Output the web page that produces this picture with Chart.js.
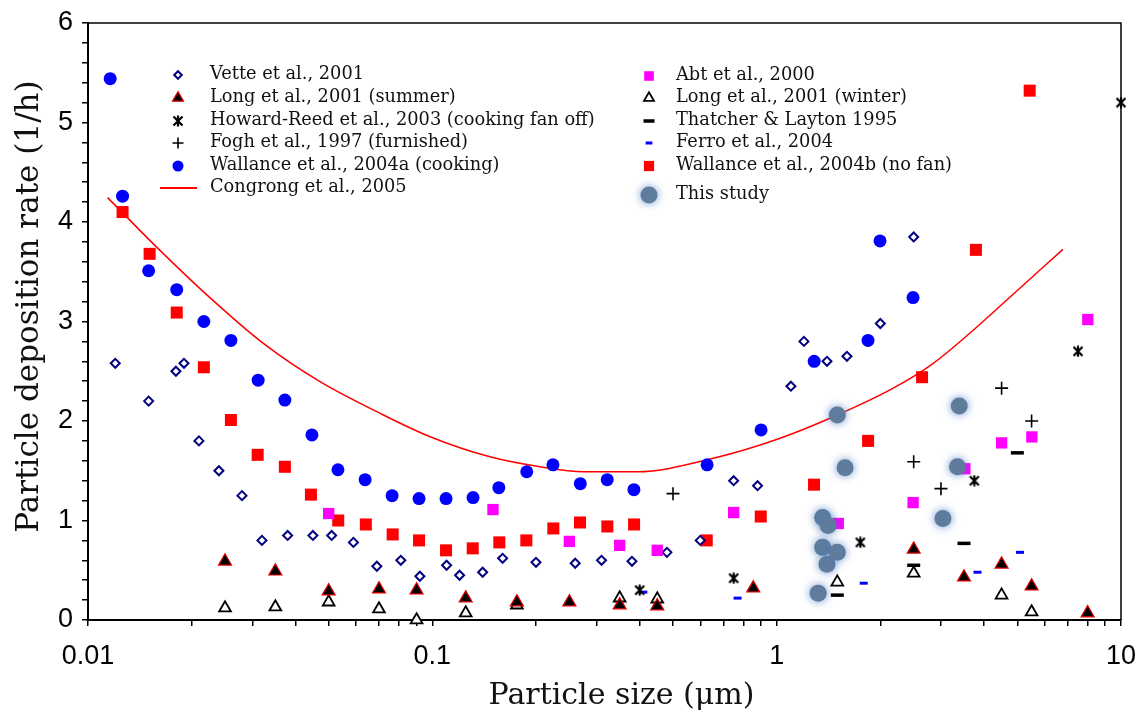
<!DOCTYPE html>
<html>
<head>
<meta charset="utf-8">
<script src="https://cdn.jsdelivr.net/npm/chart.js@4.4.1/dist/chart.umd.min.js"></script>
<style>
  html, body { margin: 0; padding: 0; background: #fff; }
  #wrap { width: 1144px; height: 710px; }
</style>
</head>
<body>
<div id="wrap"><canvas id="depositionChart" width="1144" height="710"></canvas></div>
<script>
// ---- data (particle size in um, deposition rate in 1/h) ----
const vetteX = [0.012, 0.015, 0.018, 0.019, 0.021, 0.024, 0.028, 0.032, 0.038, 0.045, 0.051, 0.059, 0.069, 0.081, 0.092, 0.11, 0.12, 0.14, 0.16, 0.20, 0.26, 0.31, 0.38, 0.48, 0.60, 0.75, 0.88, 1.10, 1.20, 1.40, 1.60, 2.00, 2.50];
const vetteY = [2.58, 2.20, 2.50, 2.58, 1.80, 1.50, 1.25, 0.80, 0.85, 0.85, 0.85, 0.78, 0.54, 0.60, 0.44, 0.55, 0.45, 0.48, 0.62, 0.58, 0.57, 0.60, 0.59, 0.68, 0.80, 1.40, 1.35, 2.35, 2.80, 2.60, 2.65, 2.98, 3.85];

const longSummerX = [0.025, 0.035, 0.05, 0.07, 0.09, 0.125, 0.176, 0.25, 0.35, 0.45, 0.855, 2.5, 3.5, 4.5, 5.5, 8.0];
const longSummerY = [0.59, 0.49, 0.29, 0.31, 0.30, 0.22, 0.18, 0.18, 0.15, 0.14, 0.32, 0.71, 0.43, 0.56, 0.34, 0.07];

const howardX = [0.40, 0.75, 1.75, 3.75, 7.5, 10];
const howardY = [0.30, 0.42, 0.78, 1.40, 2.70, 5.20];

const foghX = [0.50, 2.5, 3.0, 4.5, 5.5];
const foghY = [1.27, 1.59, 1.32, 2.33, 2.00];

const wallaceAX = [0.0116, 0.0126, 0.0150, 0.0181, 0.0217, 0.0260, 0.0312, 0.0373, 0.0447, 0.0532, 0.0638, 0.0764, 0.0915, 0.1096, 0.1313, 0.156, 0.188, 0.224, 0.269, 0.322, 0.385, 0.628, 0.901, 1.285, 1.842, 1.996, 2.489];
const wallaceAY = [5.44, 4.26, 3.51, 3.32, 3.00, 2.81, 2.41, 2.21, 1.86, 1.51, 1.41, 1.25, 1.22, 1.22, 1.23, 1.33, 1.49, 1.56, 1.37, 1.41, 1.31, 1.56, 1.91, 2.60, 2.81, 3.81, 3.24];

const congrongX = [0.0114, 0.0158, 0.0221, 0.0323, 0.0472, 0.0705, 0.0985, 0.147, 0.2055, 0.2746, 0.3924, 0.655, 1.023, 1.50, 2.18, 2.85, 3.73, 4.66, 6.78];
const congrongY = [4.245, 3.75, 3.27, 2.78, 2.395, 2.077, 1.842, 1.64, 1.54, 1.49, 1.49, 1.625, 1.826, 2.06, 2.33, 2.58, 2.915, 3.216, 3.725];

const abtX = [0.05, 0.15, 0.25, 0.35, 0.45, 0.75, 1.51, 2.49, 3.52, 4.50, 5.51, 8.01];
const abtY = [1.07, 1.11, 0.79, 0.75, 0.70, 1.08, 0.97, 1.18, 1.52, 1.78, 1.84, 3.02];

const longWinterX = [0.025, 0.035, 0.05, 0.07, 0.09, 0.125, 0.176, 0.35, 0.45, 1.5, 2.5, 4.5, 5.5];
const longWinterY = [0.12, 0.13, 0.18, 0.11, 0.0, 0.07, 0.15, 0.22, 0.21, 0.38, 0.47, 0.25, 0.08];

const thatcherX = [1.5, 2.5, 3.5, 5.0];
const thatcherY = [0.25, 0.55, 0.77, 1.68];

const ferroX = [0.41, 0.77, 1.79, 3.83, 5.09];
const ferroY = [0.28, 0.22, 0.37, 0.48, 0.68];

const wallaceBX = [0.0126, 0.0151, 0.0181, 0.0217, 0.0260, 0.0311, 0.0373, 0.0444, 0.0533, 0.0641, 0.0767, 0.0915, 0.1096, 0.131, 0.1565, 0.1875, 0.2246, 0.2685, 0.3223, 0.3854, 0.6265, 0.899, 1.284, 1.843, 2.644, 3.79, 5.43];
const wallaceBY = [4.10, 3.68, 3.09, 2.54, 2.01, 1.66, 1.54, 1.26, 1.00, 0.96, 0.86, 0.80, 0.70, 0.72, 0.78, 0.80, 0.92, 0.98, 0.94, 0.96, 0.80, 1.04, 1.36, 1.80, 2.44, 3.72, 5.32];

const studyX = [1.32, 1.36, 1.36, 1.40, 1.41, 1.50, 1.50, 1.58, 3.04, 3.35, 3.39];
const studyY = [0.27, 1.03, 0.73, 0.56, 0.95, 2.06, 0.68, 1.53, 1.02, 1.54, 2.15];

// ---- ticks ----
const xTickValues = [0.01, 0.02, 0.03, 0.04, 0.05, 0.06, 0.07, 0.08, 0.09,
                     0.1, 0.2, 0.3, 0.4, 0.5, 0.6, 0.7, 0.8, 0.9,
                     1, 2, 3, 4, 5, 6, 7, 8, 9, 10];
const xTickLabels = ['0.01', '0.1', '1', '10'];
const yTickLabels = ['0', '1', '2', '3', '4', '5', '6'];
const yMinorStep = 0.2;

const serif = '"DejaVu Serif", "Liberation Serif", serif';
const sans = '"Liberation Sans", Arial, sans-serif';

// asterisk marker (x plus vertical bar)
function asteriskMarker(size) {
    const c = document.createElement('canvas');
    c.width = size;
    c.height = size;
    const g = c.getContext('2d');
    g.strokeStyle = '#000';
    g.lineWidth = 2.2;
    g.beginPath();
    g.moveTo(1.5, 1.5); g.lineTo(size - 1.5, size - 1.5);
    g.moveTo(size - 1.5, 1.5); g.lineTo(1.5, size - 1.5);
    g.moveTo(size / 2, 0.5); g.lineTo(size / 2, size - 0.5);
    g.stroke();
    return c;
}

function points(xs, ys) {
    return xs.map((x, i) => ({ x: x, y: ys[i] }));
}

const datasets = [
    { label: 'This study', data: points(studyX, studyY), pointStyle: 'circle', pointRadius: 8.5,
      pointBackgroundColor: '#5f7c9c', pointBorderColor: '#5f7c9c', pointBorderWidth: 0, order: 0 },
    { label: 'Vette et al., 2001', data: points(vetteX, vetteY), pointStyle: 'rectRot', pointRadius: 4.5,
      pointBackgroundColor: '#fff', pointBorderColor: '#000080', pointBorderWidth: 2, order: 5 },
    { label: 'Long et al., 2001 (summer)', data: points(longSummerX, longSummerY), pointStyle: 'triangle', pointRadius: 7.5,
      pointBackgroundColor: '#000', pointBorderColor: '#e00000', pointBorderWidth: 1.2, order: 3 },
    { label: 'Howard-Reed et al., 2003 (cooking fan off)', data: points(howardX, howardY), pointStyle: asteriskMarker(12), pointRadius: 6,
      pointBackgroundColor: '#000', pointBorderColor: '#000', pointBorderWidth: 0, order: 2 },
    { label: 'Fogh et al., 1997 (furnished)', data: points(foghX, foghY), pointStyle: 'cross', pointRadius: 6.5,
      pointBackgroundColor: '#000', pointBorderColor: '#000', pointBorderWidth: 1.6, order: 2 },
    { label: 'Wallance et al., 2004a (cooking)', data: points(wallaceAX, wallaceAY), pointStyle: 'circle', pointRadius: 6.5,
      pointBackgroundColor: '#0000ff', pointBorderColor: '#0000ff', pointBorderWidth: 0, order: 6 },
    { label: 'Congrong et al., 2005', data: points(congrongX, congrongY), showLine: true, pointRadius: 0,
      borderColor: '#ff0000', borderWidth: 1.5, tension: 0.4, cubicInterpolationMode: 'monotone', order: 9 },
    { label: 'Abt et al., 2000', data: points(abtX, abtY), pointStyle: 'rect', pointRadius: 8,
      pointBackgroundColor: '#ff00ff', pointBorderColor: '#ff00ff', pointBorderWidth: 0, order: 4 },
    { label: 'Long et al., 2001 (winter)', data: points(longWinterX, longWinterY), pointStyle: 'triangle', pointRadius: 6.8,
      pointBackgroundColor: '#fff', pointBorderColor: '#000', pointBorderWidth: 1.8, order: 4 },
    { label: 'Thatcher & Layton 1995', data: points(thatcherX, thatcherY), pointStyle: 'line', pointRadius: 6.5,
      pointBackgroundColor: '#000', pointBorderColor: '#000', pointBorderWidth: 3.5, order: 2 },
    { label: 'Ferro et al., 2004', data: points(ferroX, ferroY), pointStyle: 'line', pointRadius: 4,
      pointBackgroundColor: '#0000ff', pointBorderColor: '#0000ff', pointBorderWidth: 3, order: 2 },
    { label: 'Wallance et al., 2004b (no fan)', data: points(wallaceBX, wallaceBY), pointStyle: 'rect', pointRadius: 8.5,
      pointBackgroundColor: '#ff0000', pointBorderColor: '#ff0000', pointBorderWidth: 0, order: 6 }
];
datasets.forEach(d => { d.clip = false; if (!d.showLine) d.showLine = false; });

const leftLegend = ['Vette et al., 2001', 'Long et al., 2001 (summer)', 'Howard-Reed et al., 2003 (cooking fan off)',
                    'Fogh et al., 1997 (furnished)', 'Wallance et al., 2004a (cooking)', 'Congrong et al., 2005'];
const rightLegend = ['Abt et al., 2000', 'Long et al., 2001 (winter)', 'Thatcher & Layton 1995',
                     'Ferro et al., 2004', 'Wallance et al., 2004b (no fan)', 'This study'];

function setGlow(ctx) {
    ctx.shadowColor = 'rgba(70,120,195,0.8)';
    ctx.shadowBlur = 9;
}

const glowPlugin = {
    id: 'studyGlow',
    beforeDatasetDraw(chart, args) {
        if (chart.data.datasets[args.index].label === 'This study') {
            chart.ctx.save();
            setGlow(chart.ctx);
        }
    },
    afterDatasetDraw(chart, args) {
        if (chart.data.datasets[args.index].label === 'This study') {
            chart.ctx.restore();
        }
    }
};

const framePlugin = {
    id: 'frameAndTitles',
    afterDraw(chart) {
        const ctx = chart.ctx;
        const a = chart.chartArea;
        ctx.save();
        ctx.strokeStyle = '#000';
        ctx.lineWidth = 1.5;
        ctx.beginPath();
        ctx.moveTo(a.left, a.top);
        ctx.lineTo(a.right, a.top);
        ctx.lineTo(a.right, a.bottom);
        ctx.stroke();

        ctx.fillStyle = '#111';
        ctx.font = '30px ' + serif;
        ctx.textAlign = 'center';
        ctx.textBaseline = 'alphabetic';
        ctx.fillText('Particle size (\u03bcm)', (a.left + a.right) / 2 + 17, 704);

        ctx.translate(38, (a.top + a.bottom) / 2 - 15);
        ctx.rotate(-Math.PI / 2);
        ctx.font = '31px ' + serif;
        ctx.fillText('Particle deposition rate (1/h)', 0, 0);
        ctx.restore();
    }
};

const legendPlugin = {
    id: 'twoColumnLegend',
    afterDraw(chart) {
        const ctx = chart.ctx;
        const cols = [
            { names: leftLegend, markX: 178, textX: 210, rows: [75, 98, 121, 143, 166, 188] },
            { names: rightLegend, markX: 649, textX: 676, rows: [76, 98, 121, 143, 166, 195] }
        ];
        cols.forEach(col => {
            col.names.forEach((name, i) => {
                const d = chart.data.datasets.find(s => s.label === name);
                const y = col.rows[i];
                ctx.save();
                if (d.showLine) {
                    ctx.strokeStyle = d.borderColor;
                    ctx.lineWidth = 2;
                    ctx.beginPath();
                    ctx.moveTo(col.markX - 18, y);
                    ctx.lineTo(col.markX + 19, y);
                    ctx.stroke();
                } else {
                    if (name === 'This study') setGlow(ctx);
                    ctx.fillStyle = d.pointBackgroundColor;
                    ctx.strokeStyle = d.pointBorderColor;
                    ctx.lineWidth = d.pointBorderWidth;
                    Chart.helpers.drawPoint(ctx, {
                        pointStyle: d.pointStyle,
                        radius: d.pointRadius * (name === 'This study' ? 1 : 0.85),
                        rotation: 0,
                        borderWidth: d.pointBorderWidth
                    }, col.markX, y);
                }
                ctx.restore();
                ctx.save();
                ctx.fillStyle = '#111';
                ctx.font = '17.8px ' + serif;
                ctx.textAlign = 'left';
                ctx.textBaseline = 'middle';
                ctx.fillText(name, col.textX, y - 1);
                ctx.restore();
            });
        });
    }
};

function xLabel(v) {
    const hit = xTickLabels.find(l => Math.abs(Math.log10(v) - Math.log10(parseFloat(l))) < 1e-6);
    return hit === undefined ? '' : hit;
}

function yLabel(v) {
    const r = Math.round(v);
    return Math.abs(v - r) < 1e-6 ? yTickLabels[r] : '';
}

const ctx = document.getElementById('depositionChart');

new Chart(ctx, {
    type: 'scatter',
    data: { datasets: datasets },
    options: {
        responsive: false,
        animation: false,
        events: [],
        layout: { padding: { top: 23, right: 23, left: 0, bottom: 0 } },
        plugins: {
            legend: { display: false },
            tooltip: { enabled: false }
        },
        scales: {
            x: {
                type: 'logarithmic',
                min: 0.01,
                max: 10,
                afterBuildTicks: (scale) => {
                    scale.ticks = xTickValues.map(v => ({ value: v }));
                },
                afterFit: (scale) => {
                    scale.height = 90;
                    scale.paddingLeft = 0;
                    scale.paddingRight = 0;
                },
                ticks: {
                    autoSkip: false,
                    maxRotation: 0,
                    minRotation: 0,
                    padding: 14,
                    color: '#000',
                    font: { family: sans, size: 27 },
                    callback: (v) => xLabel(v)
                },
                grid: { drawOnChartArea: false, drawTicks: true, tickLength: 6, color: '#000', lineWidth: 1.5 },
                border: { color: '#000', width: 2 }
            },
            y: {
                type: 'linear',
                min: 0,
                max: 6,
                afterBuildTicks: (scale) => {
                    const t = [];
                    for (let i = 0; i <= 6 / yMinorStep + 1e-9; i++) t.push({ value: Math.round(i * yMinorStep * 10) / 10 });
                    scale.ticks = t;
                },
                afterFit: (scale) => {
                    scale.width = 88;
                    scale.paddingTop = 0;
                    scale.paddingBottom = 0;
                },
                ticks: {
                    autoSkip: false,
                    padding: 9,
                    color: '#000',
                    font: { family: sans, size: 27 },
                    callback: (v) => yLabel(v)
                },
                grid: { drawOnChartArea: false, drawTicks: true, tickLength: 6, color: '#000', lineWidth: 1.5 },
                border: { color: '#000', width: 2 }
            }
        }
    },
    plugins: [glowPlugin, framePlugin, legendPlugin]
});
</script>
</body>
</html>
